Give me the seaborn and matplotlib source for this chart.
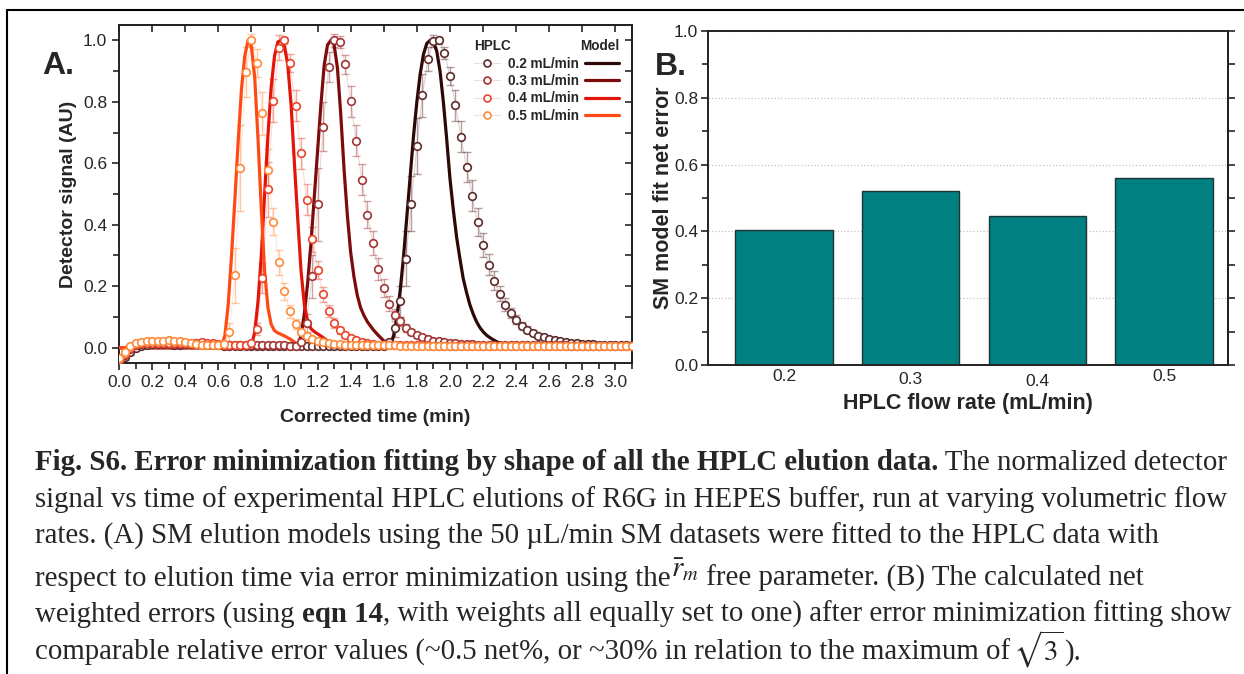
import numpy as np
import matplotlib
matplotlib.use("Agg")
import matplotlib.pyplot as plt
from matplotlib.lines import Line2D
from matplotlib.ticker import MultipleLocator
from matplotlib.transforms import ScaledTranslation
import seaborn as sns

W, H = 1244, 674

# HPLC detector was sampled every 2 s
SAMPLE_STEP = 1 / 30
N_SAMPLES = 94

flow_labels = ["0.2 mL/min", "0.3 mL/min", "0.4 mL/min", "0.5 mL/min"]
flow_rates = ["0.2", "0.3", "0.4", "0.5"]
net_error = [0.403, 0.522, 0.445, 0.561]

hplc_02 = [
    -0.045, -0.030, -0.015, 0.000, 0.006, 0.010, 0.012, 0.012, 0.012, 0.011,
    0.010, 0.010, 0.011, 0.012, 0.013, 0.012, 0.010, 0.008, 0.007, 0.006,
    0.005, 0.005, 0.005, 0.005, 0.005, 0.005, 0.005, 0.005, 0.005, 0.005,
    0.005, 0.005, 0.005, 0.005, 0.005, 0.005, 0.005, 0.005, 0.005, 0.005,
    0.005, 0.005, 0.005, 0.005, 0.005, 0.005, 0.005, 0.005, 0.005, 0.017,
    0.064, 0.151, 0.289, 0.468, 0.656, 0.821, 0.940, 0.997, 1.000, 0.960,
    0.884, 0.789, 0.687, 0.588, 0.494, 0.408, 0.334, 0.270, 0.218, 0.176,
    0.140, 0.113, 0.091, 0.072, 0.059, 0.048, 0.039, 0.034, 0.028, 0.024,
    0.020, 0.018, 0.016, 0.014, 0.013, 0.012, 0.011, 0.010, 0.010, 0.009,
    0.009, 0.008, 0.008, 0.008,
]
err_02 = [
    0.012, 0.010, 0.008, 0.006, 0.006, 0.006, 0.006, 0.006, 0.006, 0.006,
    0.006, 0.006, 0.006, 0.006, 0.006, 0.006, 0.006, 0.005, 0.005, 0.005,
    0.005, 0.005, 0.005, 0.005, 0.005, 0.005, 0.005, 0.005, 0.005, 0.005,
    0.005, 0.005, 0.005, 0.005, 0.005, 0.005, 0.005, 0.005, 0.005, 0.005,
    0.005, 0.005, 0.005, 0.005, 0.005, 0.005, 0.005, 0.005, 0.005, 0.010,
    0.030, 0.050, 0.090, 0.090, 0.090, 0.070, 0.040, 0.020, 0.012, 0.020,
    0.030, 0.050, 0.050, 0.050, 0.050, 0.045, 0.040, 0.035, 0.030, 0.025,
    0.020, 0.017, 0.014, 0.012, 0.010, 0.008, 0.008, 0.007, 0.007, 0.006,
    0.006, 0.006, 0.006, 0.005, 0.005, 0.005, 0.005, 0.005, 0.005, 0.005,
    0.005, 0.005, 0.005, 0.005,
]

hplc_03 = [
    -0.045, -0.025, -0.005, 0.008, 0.012, 0.014, 0.015, 0.015, 0.014, 0.013,
    0.012, 0.012, 0.012, 0.013, 0.014, 0.014, 0.013, 0.012, 0.010, 0.010,
    0.010, 0.009, 0.008, 0.008, 0.008, 0.008, 0.008, 0.008, 0.007, 0.007,
    0.007, 0.006, 0.006, 0.018, 0.080, 0.232, 0.466, 0.719, 0.913, 1.000,
    0.995, 0.922, 0.802, 0.674, 0.547, 0.433, 0.341, 0.256, 0.194, 0.143,
    0.107, 0.086, 0.064, 0.050, 0.040, 0.034, 0.028, 0.023, 0.020, 0.018,
    0.016, 0.014, 0.013, 0.012, 0.011, 0.010, 0.010, 0.009, 0.009, 0.009,
    0.008, 0.008, 0.008, 0.008, 0.008, 0.007, 0.007, 0.007, 0.007, 0.007,
    0.007, 0.007, 0.006, 0.006, 0.006, 0.006, 0.006, 0.006, 0.006, 0.006,
    0.006, 0.006, 0.006, 0.006,
]
err_03 = [
    0.012, 0.010, 0.008, 0.006, 0.006, 0.006, 0.006, 0.006, 0.006, 0.006,
    0.006, 0.006, 0.006, 0.006, 0.006, 0.006, 0.006, 0.006, 0.006, 0.005,
    0.005, 0.005, 0.005, 0.005, 0.005, 0.005, 0.005, 0.005, 0.005, 0.005,
    0.005, 0.005, 0.006, 0.010, 0.030, 0.070, 0.120, 0.080, 0.050, 0.020,
    0.020, 0.030, 0.050, 0.050, 0.050, 0.045, 0.040, 0.035, 0.030, 0.025,
    0.020, 0.015, 0.012, 0.010, 0.008, 0.008, 0.007, 0.007, 0.006, 0.006,
    0.006, 0.006, 0.006, 0.005, 0.005, 0.005, 0.005, 0.005, 0.005, 0.005,
    0.005, 0.005, 0.005, 0.005, 0.005, 0.005, 0.005, 0.005, 0.005, 0.005,
    0.005, 0.005, 0.005, 0.005, 0.005, 0.005, 0.005, 0.005, 0.005, 0.005,
    0.005, 0.005, 0.005, 0.005,
]

hplc_04 = [
    -0.040, -0.020, 0.000, 0.012, 0.015, 0.016, 0.016, 0.015, 0.015, 0.015,
    0.016, 0.016, 0.016, 0.015, 0.016, 0.018, 0.016, 0.014, 0.012, 0.010,
    0.008, 0.007, 0.007, 0.008, 0.015, 0.061, 0.227, 0.515, 0.804, 0.976,
    1.000, 0.927, 0.788, 0.632, 0.482, 0.352, 0.252, 0.173, 0.120, 0.080,
    0.056, 0.042, 0.031, 0.024, 0.019, 0.015, 0.012, 0.010, 0.009, 0.009,
    0.008, 0.008, 0.008, 0.007, 0.007, 0.007, 0.007, 0.006, 0.006, 0.006,
    0.006, 0.006, 0.006, 0.006, 0.006, 0.006, 0.006, 0.006, 0.006, 0.006,
    0.005, 0.005, 0.005, 0.005, 0.005, 0.005, 0.005, 0.005, 0.005, 0.005,
    0.005, 0.005, 0.005, 0.005, 0.005, 0.005, 0.005, 0.005, 0.005, 0.005,
    0.005, 0.005, 0.005, 0.005,
]
err_04 = [
    0.012, 0.010, 0.008, 0.006, 0.006, 0.006, 0.006, 0.006, 0.006, 0.006,
    0.006, 0.006, 0.006, 0.006, 0.006, 0.006, 0.006, 0.006, 0.006, 0.006,
    0.006, 0.006, 0.006, 0.006, 0.008, 0.020, 0.050, 0.090, 0.070, 0.040,
    0.012, 0.030, 0.050, 0.050, 0.050, 0.040, 0.030, 0.025, 0.020, 0.015,
    0.012, 0.010, 0.008, 0.007, 0.007, 0.006, 0.006, 0.006, 0.006, 0.005,
    0.005, 0.005, 0.005, 0.005, 0.005, 0.005, 0.005, 0.005, 0.005, 0.005,
    0.005, 0.005, 0.005, 0.005, 0.005, 0.005, 0.005, 0.005, 0.005, 0.005,
    0.005, 0.005, 0.005, 0.005, 0.005, 0.005, 0.005, 0.005, 0.005, 0.005,
    0.005, 0.005, 0.005, 0.005, 0.005, 0.005, 0.005, 0.005, 0.005, 0.005,
    0.005, 0.005, 0.005, 0.005,
]

hplc_05 = [
    -0.035, -0.015, 0.005, 0.015, 0.018, 0.020, 0.020, 0.020, 0.022, 0.024,
    0.022, 0.020, 0.018, 0.015, 0.012, 0.010, 0.010, 0.010, 0.010, 0.012,
    0.050, 0.235, 0.586, 0.897, 1.000, 0.926, 0.762, 0.578, 0.410, 0.278,
    0.183, 0.118, 0.077, 0.050, 0.037, 0.028, 0.022, 0.018, 0.015, 0.013,
    0.011, 0.010, 0.009, 0.009, 0.008, 0.008, 0.008, 0.007, 0.007, 0.007,
    0.007, 0.006, 0.006, 0.006, 0.006, 0.006, 0.005, 0.005, 0.005, 0.005,
    0.005, 0.005, 0.005, 0.005, 0.005, 0.005, 0.005, 0.005, 0.005, 0.005,
    0.005, 0.005, 0.004, 0.004, 0.004, 0.004, 0.004, 0.004, 0.004, 0.004,
    0.004, 0.004, 0.004, 0.004, 0.004, 0.004, 0.004, 0.004, 0.004, 0.004,
    0.004, 0.004, 0.004, 0.004,
]
err_05 = [
    0.012, 0.010, 0.008, 0.006, 0.006, 0.006, 0.006, 0.006, 0.006, 0.006,
    0.006, 0.006, 0.006, 0.006, 0.006, 0.006, 0.006, 0.006, 0.006, 0.008,
    0.030, 0.090, 0.140, 0.080, 0.020, 0.046, 0.070, 0.070, 0.045, 0.040,
    0.027, 0.020, 0.015, 0.010, 0.008, 0.007, 0.006, 0.006, 0.005, 0.005,
    0.005, 0.005, 0.005, 0.005, 0.005, 0.005, 0.005, 0.005, 0.005, 0.005,
    0.005, 0.005, 0.005, 0.005, 0.005, 0.005, 0.005, 0.005, 0.005, 0.005,
    0.004, 0.004, 0.004, 0.004, 0.004, 0.004, 0.004, 0.004, 0.004, 0.004,
    0.004, 0.004, 0.004, 0.004, 0.004, 0.004, 0.004, 0.004, 0.004, 0.004,
    0.004, 0.004, 0.004, 0.004, 0.004, 0.004, 0.004, 0.004, 0.004, 0.004,
    0.004, 0.004, 0.004, 0.004,
]

# SM elution models (time in min, normalized signal)
model_t_02 = [0.0, 1.62, 1.64, 1.66, 1.68, 1.70, 1.72, 1.74, 1.76, 1.78, 1.80,
              1.82, 1.84, 1.86, 1.88, 1.90, 1.92, 1.94, 1.96, 1.98, 2.00,
              2.02, 2.04, 2.06, 2.08, 2.10, 2.12, 2.14, 2.16, 2.18, 2.20,
              2.22, 2.24, 2.26, 2.28, 2.30, 2.32, 2.34, 2.36, 2.38, 2.40, 3.1]
model_02 = [0.0, 0.0, 0.005, 0.04, 0.10, 0.19, 0.30, 0.43, 0.56, 0.69, 0.80,
            0.89, 0.955, 0.99, 1.0, 0.995, 0.965, 0.90, 0.80, 0.68, 0.55,
            0.45, 0.36, 0.29, 0.225, 0.18, 0.14, 0.11, 0.085, 0.066, 0.052,
            0.041, 0.033, 0.026, 0.020, 0.015, 0.011, 0.007, 0.004, 0.002, 0.0, 0.0]

model_t_03 = [0.0, 1.06, 1.08, 1.10, 1.12, 1.14, 1.16, 1.18, 1.20, 1.22, 1.24,
              1.26, 1.28, 1.30, 1.32, 1.34, 1.36, 1.38, 1.40, 1.42, 1.44,
              1.46, 1.48, 1.50, 1.52, 1.54, 1.56, 1.58, 1.60, 1.62, 1.64, 1.66, 3.1]
model_03 = [0.0, 0.0, 0.005, 0.04, 0.11, 0.21, 0.34, 0.49, 0.64, 0.79, 0.92,
            0.985, 1.0, 0.985, 0.91, 0.76, 0.58, 0.43, 0.31, 0.23, 0.17,
            0.13, 0.105, 0.085, 0.07, 0.056, 0.044, 0.033, 0.022, 0.012, 0.003, 0.0, 0.0]

model_t_04 = [0.0, 0.78, 0.80, 0.82, 0.84, 0.86, 0.88, 0.90, 0.92, 0.94, 0.96,
              0.98, 1.00, 1.02, 1.04, 1.06, 1.08, 1.10, 1.12, 1.14, 1.16,
              1.18, 1.20, 1.22, 1.24, 1.26, 1.28, 1.30, 1.32, 3.1]
model_04 = [0.0, 0.0, 0.005, 0.05, 0.15, 0.30, 0.50, 0.69, 0.85, 0.95, 0.995,
            1.0, 0.98, 0.92, 0.79, 0.60, 0.42, 0.25, 0.14, 0.085, 0.062,
            0.052, 0.045, 0.038, 0.030, 0.022, 0.012, 0.004, 0.0, 0.0]

model_t_05 = [0.0, 0.60, 0.62, 0.64, 0.66, 0.68, 0.70, 0.72, 0.74, 0.76, 0.78,
              0.80, 0.82, 0.84, 0.86, 0.88, 0.90, 0.92, 0.94, 0.96, 0.98,
              1.00, 1.02, 1.04, 1.06, 1.08, 1.10, 1.12, 3.1]
model_05 = [0.0, 0.0, 0.005, 0.04, 0.14, 0.30, 0.48, 0.67, 0.84, 0.95, 1.0,
            0.98, 0.88, 0.68, 0.45, 0.25, 0.13, 0.075, 0.055, 0.048, 0.043,
            0.038, 0.032, 0.026, 0.018, 0.008, 0.002, 0.0, 0.0]

hplc_values = [hplc_02, hplc_03, hplc_04, hplc_05]
hplc_errors = [err_02, err_03, err_04, err_05]
model_times = [model_t_02, model_t_03, model_t_04, model_t_05]
model_values = [model_02, model_03, model_04, model_05]

line_colors = ["#2e0707", "#7c0b0b", "#e3150b", "#ff4a16"]
marker_colors = ["#5e2b2b", "#a33434", "#e8452c", "#ff8a3a"]

caption_lines = [
    [("Fig. S6. Error minimization fitting by shape of all the HPLC elution data.", "bold"),
     (" The normalized detector", "normal")],
    [("signal vs time of experimental HPLC elutions of R6G in HEPES buffer, run at varying volumetric flow", "normal")],
    [("rates. (A) SM elution models using the 50 \u00b5L/min SM datasets were fitted to the HPLC data with", "normal")],
    [("respect to elution time via error minimization using the", "normal"),
     (r"$\bar{r}_{m}$", "raised"),
     (" free parameter. (B) The calculated net", "normal")],
    [("weighted errors (using ", "normal"), ("eqn 14", "bold"),
     (", with weights all equally set to one) after error minimization fitting show", "normal")],
    [("comparable relative error values (~0.5 net%, or ~30% in relation to the maximum of", "normal"),
     (r"$\,\sqrt{3}$", "normal"), (").", "normal")],
]
caption_baselines = [470, 507, 544, 586, 622, 660]


def fig_xy(x, y):
    return x / W, 1 - y / H


def style_left(ax):
    ax.set_xlim(0, 3.1)
    ax.set_ylim(-0.05, 1.05)
    ax.xaxis.set_major_locator(MultipleLocator(0.2))
    ax.xaxis.set_minor_locator(MultipleLocator(0.1))
    ax.yaxis.set_major_locator(MultipleLocator(0.2))
    ax.yaxis.set_minor_locator(MultipleLocator(0.1))
    ax.tick_params(which="both", direction="out", width=1.2, labelsize=12.5,
                   top=False, right=False, color="#222222")
    ax.tick_params(which="major", length=5)
    ax.tick_params(which="minor", length=4)
    for s in ax.spines.values():
        s.set_visible(True)
        s.set_linewidth(1.4)
        s.set_color("#222222")

    top = ax.secondary_xaxis("top")
    top.xaxis.set_major_locator(MultipleLocator(0.2))
    top.tick_params(direction="in", length=5, width=1.2, labeltop=False)
    right = ax.secondary_yaxis("right")
    right.yaxis.set_major_locator(MultipleLocator(0.1))
    right.tick_params(direction="in", length=5, width=1.2, labelright=False)

    ax.set_xlabel("Corrected time (min)", fontsize=14, fontweight="bold", labelpad=14)
    ax.set_ylabel("Detector signal (AU)", fontsize=14, fontweight="bold", labelpad=4)


def plot_elution(ax):
    t = np.arange(N_SAMPLES) * SAMPLE_STEP
    for i in range(4):
        sns.lineplot(x=model_times[i], y=model_values[i], ax=ax, color=line_colors[i],
                     linewidth=2.3, zorder=3)
    for i in range(4):
        mc = marker_colors[i]
        ax.errorbar(t, hplc_values[i], yerr=hplc_errors[i], fmt="none", ecolor=mc,
                    alpha=0.45, elinewidth=1.0, capsize=2.8, capthick=1.0, zorder=2)
        ax.plot(t, hplc_values[i], color=mc, lw=0.8, alpha=0.2, zorder=2)
        sns.scatterplot(x=t, y=hplc_values[i], ax=ax, color="white", edgecolor=mc,
                        linewidth=1.2, s=30, zorder=4, legend=False)

    bold = {"weight": "bold", "size": 9.8}
    hplc_handles = [Line2D([], [], color="#ecdede", lw=0.8, marker="o", ms=5,
                           mfc="white", mec=c, mew=1.2) for c in marker_colors]
    model_handles = [Line2D([], [], color=c, lw=2.3) for c in line_colors]

    leg_hplc = ax.legend(hplc_handles, flow_labels, title="HPLC", alignment="left",
                         loc="upper left", bbox_to_anchor=(0.692, 0.958),
                         frameon=False, prop=bold, title_fontproperties=bold,
                         handlelength=1.9, handletextpad=0.6, labelspacing=0.25,
                         borderpad=0, borderaxespad=0)
    ax.add_artist(leg_hplc)
    ax.legend(model_handles, [" "] * 4, title="Model", alignment="right",
              loc="upper right", bbox_to_anchor=(0.975, 0.958), markerfirst=False,
              frameon=False, prop=bold, title_fontproperties=bold,
              handlelength=2.5, handletextpad=0.0, labelspacing=0.25,
              borderpad=0, borderaxespad=0)


def plot_errors(fig, ax):
    ax.set_axisbelow(True)
    ax.grid(axis="y", which="major", linestyle=":", color="#c4c4c4", linewidth=0.9)
    sns.barplot(x=flow_rates, y=net_error, ax=ax, color="#008080", saturation=1,
                edgecolor="#1d3535", linewidth=1.0, width=0.77)
    ax.set_xlim(-0.6, 3.505)
    ax.set_ylim(0, 1.0)
    ax.yaxis.set_major_locator(MultipleLocator(0.2))
    ax.yaxis.set_minor_locator(MultipleLocator(0.1))
    ax.tick_params(axis="y", which="both", direction="out", width=1.2, labelsize=12.5,
                   color="#222222", pad=2)
    ax.tick_params(axis="y", which="major", length=5)
    ax.tick_params(axis="y", which="minor", length=4)
    ax.tick_params(axis="x", length=0, labelsize=12.5, pad=3)
    # the category labels sit slightly staggered in the original
    for lab, dy in zip(ax.get_xticklabels(), [0, 3, 5, 0]):
        lab.set_transform(lab.get_transform() + ScaledTranslation(0, -dy / 100, fig.dpi_scale_trans))
    for s in ax.spines.values():
        s.set_visible(True)
        s.set_linewidth(1.4)
        s.set_color("#222222")
    right = ax.secondary_yaxis("right")
    right.yaxis.set_major_locator(MultipleLocator(0.1))
    right.tick_params(direction="out", length=5, width=1.2, labelright=False)
    ax.set_xlabel("HPLC flow rate (mL/min)", fontsize=15.5, fontweight="bold", labelpad=3)
    ax.set_ylabel("SM model fit net error", fontsize=15.5, fontweight="bold", labelpad=0)


def draw_caption(fig):
    renderer = fig.canvas.get_renderer()
    family = ["Liberation Serif", "DejaVu Serif"]
    probe = fig.text(0, 0, caption_lines[1][0][0], fontsize=20, family=family)
    size = 20 * 1197 / probe.get_window_extent(renderer).width
    probe.remove()
    for runs, base in zip(caption_lines, caption_baselines):
        x = 35
        for text, kind in runs:
            y = base - 9 if kind == "raised" else base
            weight = "bold" if kind == "bold" else "normal"
            t = fig.text(*fig_xy(x, y), text, fontsize=size, family=family,
                         fontweight=weight, ha="left", va="baseline")
            x = t.get_window_extent(renderer).x1


def main():
    sns.set_theme(style="ticks")
    plt.rcParams["font.family"] = ["Liberation Sans", "DejaVu Sans"]
    plt.rcParams["mathtext.fontset"] = "stix"

    fig = plt.figure(figsize=(W / 100, H / 100), dpi=100)
    fig.patch.set_facecolor("white")
    ax1 = fig.add_axes([119 / W, 1 - 363 / H, 513 / W, 338 / H])
    ax2 = fig.add_axes([708 / W, 1 - 365 / H, 520 / W, 334 / H])

    plot_elution(ax1)
    style_left(ax1)
    plot_errors(fig, ax2)

    fig.text(*fig_xy(58, 66), "A.", fontsize=23, fontweight="bold", ha="center", va="center")
    fig.text(*fig_xy(671, 67), "B.", fontsize=23, fontweight="bold", ha="center", va="center")

    # page frame around the figure
    fig.add_artist(Line2D([7 / W, 1], [1 - 10 / H, 1 - 10 / H], transform=fig.transFigure,
                          color="black", lw=1.5))
    fig.add_artist(Line2D([7 / W, 7 / W], [0, 1 - 10 / H], transform=fig.transFigure,
                          color="black", lw=1.5))

    draw_caption(fig)
    fig.savefig("out.png", dpi=100)
    plt.close(fig)


if __name__ == "__main__":
    main()
